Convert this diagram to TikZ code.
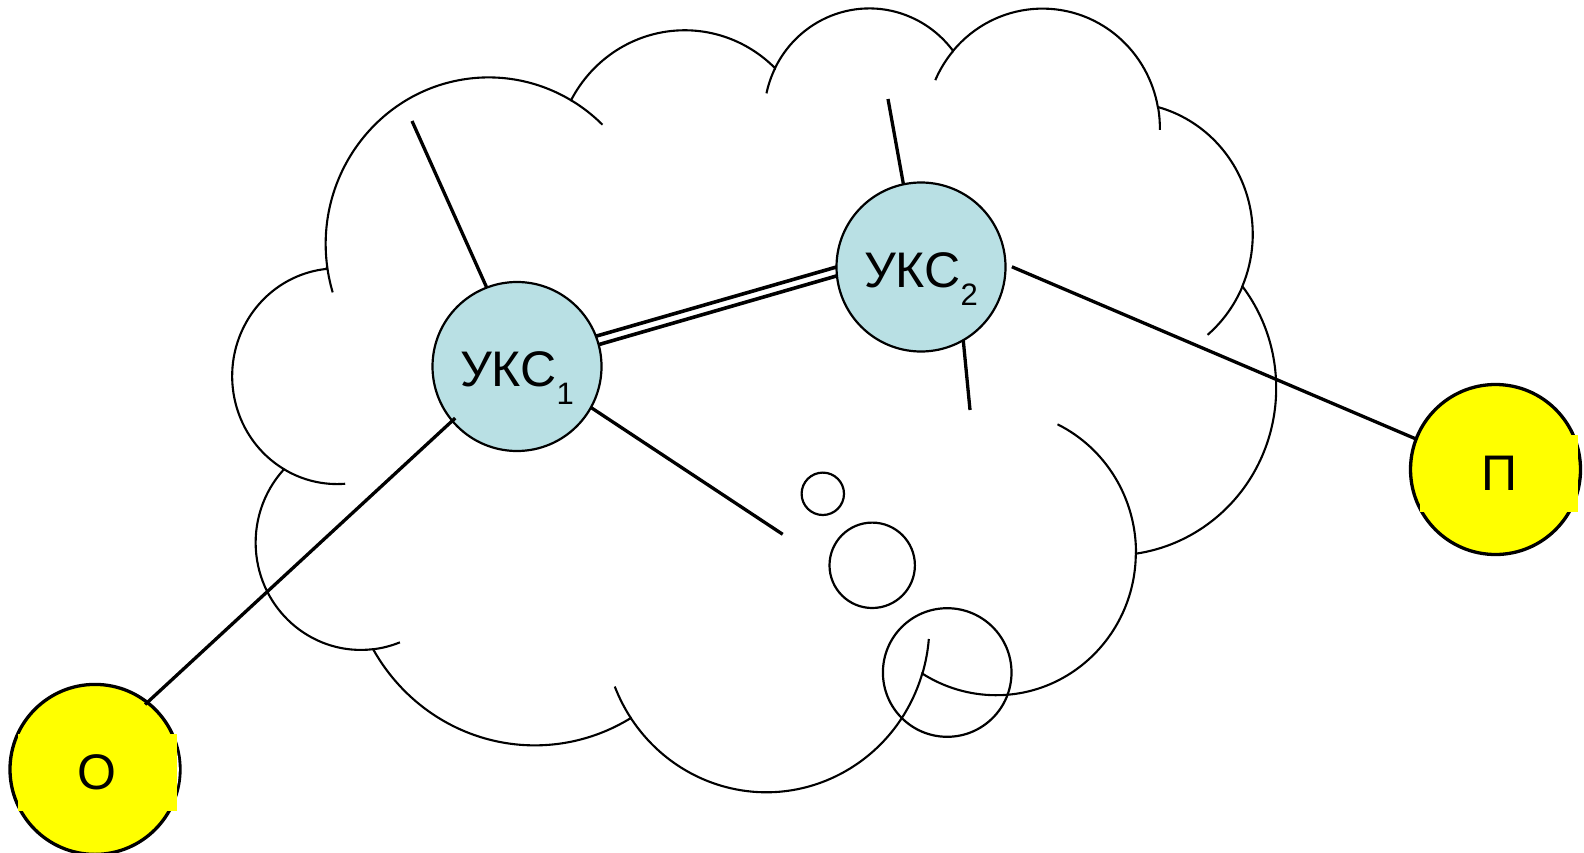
\documentclass[tikz,border=0pt]{standalone}
\usepackage{fontspec}
\setmainfont{Liberation Sans}
\definecolor{ukcfill}{RGB}{185,224,228}
\definecolor{termfill}{RGB}{255,255,0}
\newcommand\ksub[1]{\raisebox{-18pt}{\fontsize{31}{32}\selectfont #1}}
\begin{document}
\begin{tikzpicture}[x=1pt, y=1pt, yscale=-1,
  cloudline/.style={line width=2.1pt},
  conn/.style={line width=3.3pt},
  trunk/.style={line width=3.6pt},
  ukc/.style={circle, draw, line width=2.2pt, fill=ukcfill, minimum size=169pt,
    inner sep=0pt, outer sep=0pt, text height=40pt, text depth=0pt,
    font=\fontsize{50}{54}\selectfont},
  term/.style={circle, draw, line width=3.3pt, fill=termfill, minimum size=170pt,
    inner sep=0pt, outer sep=0pt},
  tbox/.style={rectangle, fill=termfill, minimum width=158.7pt, minimum height=76.7pt,
    inner sep=0pt, font=\fontsize{50}{54}\selectfont},
  bubble/.style={circle, draw, line width=2.2pt, inner sep=0pt, outer sep=0pt}]

\useasboundingbox (0,0) rectangle (1584,853);

% cloud outline: eleven elliptical lobes plus the short inner hooks
\begin{scope}[shift={(233.04,5.9)}, xscale=2.4136, yscale=1.8137]
  \draw[cloudline] (39.00,143.70) coordinate (c0)
    arc[start angle=172.255, end angle=300.36, x radius=67.53, y radius=91.90] coordinate (c1)
    arc[start angle=-152.03, end angle=-45.45, x radius=53.33, y radius=72.67] coordinate (c2)
    arc[start angle=-153.50, end angle=-37.33, x radius=43.65, y radius=59.45] coordinate (c3)
    arc[start angle=-139.71, end angle=-10.21, x radius=48.57, y radius=65.95] coordinate (c4)
    arc[start angle=-74.77, end angle=23.21, x radius=53.33, y radius=72.73] coordinate (c5)
    arc[start angle=-37.53, end angle=81.86, x radius=67.75, y radius=92.20] coordinate (c6)
    arc[start angle=0.46, end angle=121.98, x radius=57.85, y radius=78.67] coordinate (c7)
    arc[start angle=16.845, end angle=146.23, x radius=67.52, y radius=92.15] coordinate (c8)
    arc[start angle=58.98, end angle=150.20, x radius=77.20, y radius=105.43] coordinate (c9)
    arc[start angle=83.31, end angle=223.11, x radius=43.60, y radius=59.18] coordinate (c10)
    arc[start angle=120.36, end angle=264.11, x radius=43.45, y radius=59.45] -- cycle;
  \draw[cloudline] (c0) arc[start angle=172.255, end angle=163.16, x radius=67.53, y radius=91.90];
  \draw[cloudline] (c1) arc[start angle=-59.64, end angle=-45.73, x radius=67.53, y radius=91.90];
  \draw[cloudline] (c2) arc[start angle=-153.50, end angle=-167.73, x radius=43.65, y radius=59.45];
  \draw[cloudline] (c3) arc[start angle=-139.71, end angle=-156.30, x radius=48.57, y radius=65.95];
  \draw[cloudline] (c4) arc[start angle=-10.21, end angle=0.82, x radius=48.57, y radius=65.95];
  \draw[cloudline] (c5) arc[start angle=23.21, end angle=49.65, x radius=53.33, y radius=72.73];
  \draw[cloudline] (c6) arc[start angle=0.46, end angle=-64.03, x radius=57.85, y radius=78.67];
  \draw[cloudline] (c7) arc[start angle=16.845, end angle=4.737, x radius=67.52, y radius=92.15];
  \draw[cloudline] (c8) arc[start angle=146.23, end angle=158.47, x radius=67.52, y radius=92.15];
  \draw[cloudline] (c9) arc[start angle=83.31, end angle=68.24, x radius=43.60, y radius=59.18];
  \draw[cloudline] (c10) arc[start angle=120.36, end angle=85.55, x radius=43.45, y radius=59.45];
\end{scope}

% bubbles inside the cloud
\node[bubble, minimum size=42.4pt] (b1) at (822.8,493.8) {};
\node[bubble, minimum size=85.4pt] (b2) at (872.2,565.3) {};
\node[bubble, minimum size=128.6pt] (b3) at (947.2,672.5) {};

% switching centres
\node[ukc] (ukc1) at (517,366.5) {УКС\ksub{1}};
\node[ukc] (ukc2) at (921,267) {УКС\ksub{2}};

% terminals with their yellow text boxes
\node[term] (o) at (95,769.4) {};
\node[term] (p) at (1495.5,469.5) {};
\begin{scope}
  \clip (o.center) circle[radius=83.8];
  \fill[white] (176.7,734) rectangle (190,810.7);
\end{scope}
\node[tbox] (olab) at (97.35,772.35) {О};
\node[tbox] (plab) at (1499,473.4) {П};

% free ends of the subscriber lines
\coordinate (e1) at (412,121);
\coordinate (e2) at (888,99);
\coordinate (e3) at (970,410);
\coordinate (e6) at (782.7,534.3);

% connections
\draw[conn] (ukc1.111.7) -- (e1);
\draw[conn] (ukc1.331.1) -- (e6);
\draw[conn] (ukc2.102.3) -- (e2);
\draw[conn] (ukc2.300) -- (e3);
\draw[conn, shorten <=7pt] (ukc2.2) -- (p.159.7);
\draw[conn, shorten <=-3pt, shorten >=-4pt] (o.52.6) -- (ukc1.220);
% two-wire trunk between the switching centres
\draw[trunk] (ukc1.21.5) -- (ukc2.180.3);
\draw[trunk] (ukc1.15.3) -- (ukc2.186.8);
\end{tikzpicture}
\end{document}
